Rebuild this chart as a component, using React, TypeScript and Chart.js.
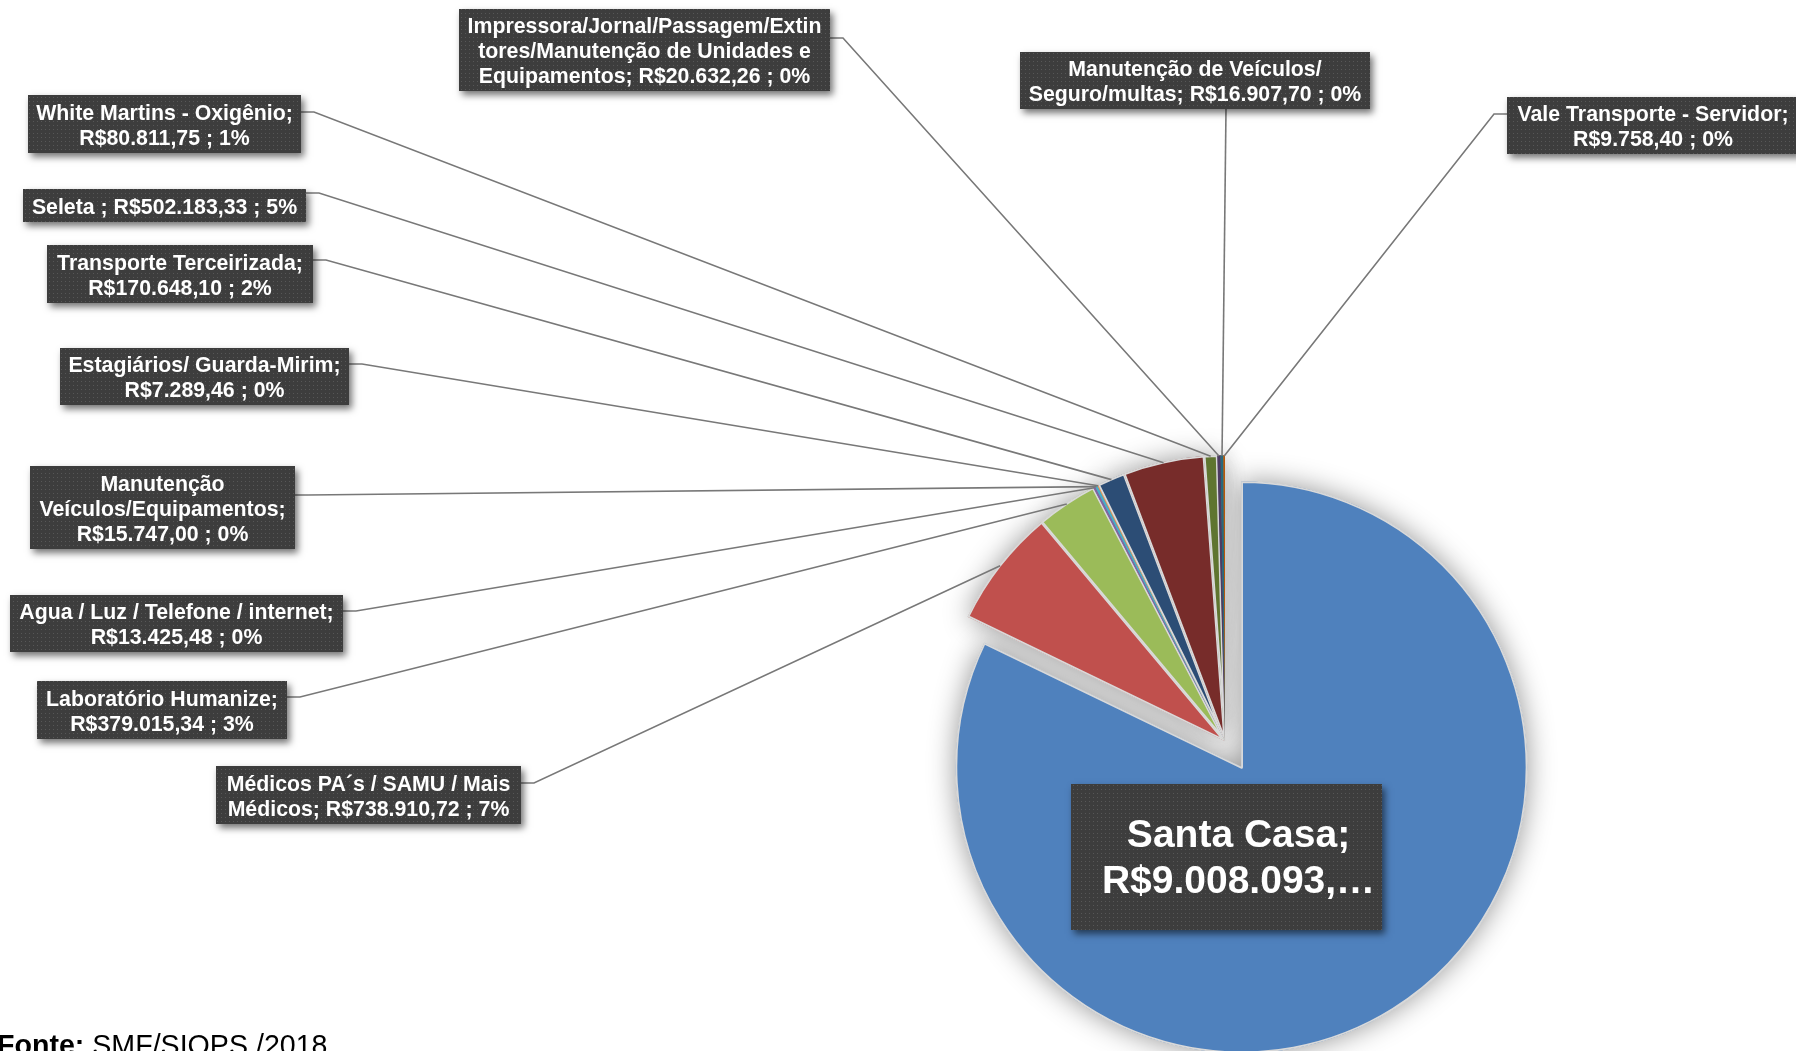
import React, { useEffect, useRef } from "react";
import { Chart, registerables } from "chart.js";

Chart.register(...registerables);

// ---------------- data ----------------
const categories: string[] = [
  "Santa Casa",
  "Médicos PA´s / SAMU / Mais Médicos",
  "Laboratório Humanize",
  "Agua / Luz / Telefone / internet",
  "Manutenção Veículos/Equipamentos",
  "Estagiários/ Guarda-Mirim",
  "Transporte Terceirizada",
  "Seleta ",
  "White Martins - Oxigênio",
  "Impressora/Jornal/Passagem/Extintores/Manutenção de Unidades e Equipamentos",
  "Manutenção de Veículos/ Seguro/multas",
  "Vale Transporte - Servidor",
];

const values: number[] = [
  9008093.0, 738910.72, 379015.34, 13425.48, 15747.0, 7289.46, 170648.1,
  502183.33, 80811.75, 20632.26, 16907.7, 9758.4,
];

const sliceColors: string[] = [
  "#4F81BD", "#C0504D", "#9BBB59", "#8064A2", "#4BACC6", "#F79646",
  "#2C4D75", "#772C2A", "#5F7530", "#4D3B62", "#276A7C", "#B65708",
];

const sourceLabel = "Fonte:";
const sourceValue = " SMF/SIOPS /2018";

// ---------------- styles / layout ----------------
const PIE_RADIUS = 286;
const explode: number[] = [31, 0, 0, 0, 0, 0, 0, 0, 0, 0, 0, 0];
const sliceBorder: number[] = [1.5, 1.5, 1.5, 0, 0, 0, 1.5, 1.5, 1.5, 0, 0, 0];
const FONT = '"Liberation Sans", Arial, Helvetica, sans-serif';

type Box = {
  x: number; y: number; w: number; h: number; wrap: number;
  side?: "right" | "left" | "bottom"; ay?: number; ax?: number;
  font?: number; lh?: number; maxLines?: number; tx?: number;
};

const labelBoxes: Box[] = [
  { x: 1071, y: 784, w: 311, h: 146, wrap: 286, font: 39, lh: 46, maxLines: 2, tx: 12 },
  { x: 216, y: 766, w: 305, h: 58, wrap: 296, side: "right", ay: 17 },
  { x: 37, y: 681, w: 250, h: 58, wrap: 241, side: "right", ay: 16 },
  { x: 10, y: 595, w: 333, h: 57, wrap: 324, side: "right", ay: 16 },
  { x: 30, y: 466, w: 265, h: 83, wrap: 256, side: "right", ay: 29 },
  { x: 60, y: 348, w: 289, h: 57, wrap: 280, side: "right", ay: 16 },
  { x: 47, y: 245, w: 266, h: 58, wrap: 257, side: "right", ay: 15 },
  { x: 23, y: 189, w: 283, h: 33, wrap: 276, side: "right", ay: 4 },
  { x: 28, y: 95, w: 273, h: 58, wrap: 264, side: "right", ay: 17 },
  { x: 459, y: 9, w: 371, h: 82, wrap: 357, side: "right", ay: 29 },
  { x: 1020, y: 52, w: 350, h: 57, wrap: 340, side: "bottom", ax: 206 },
  { x: 1507, y: 97, w: 292, h: 57, wrap: 282, side: "left", ay: 17 },
];

// ---------------- helpers ----------------
const total = values.reduce((a, b) => a + b, 0);

function brl(v: number): string {
  const [i, d] = v.toFixed(2).split(".");
  return "R$" + i.replace(/\B(?=(\d{3})+(?!\d))/g, ".") + "," + d;
}

function labelText(i: number): string {
  const pct = Math.round((values[i] / total) * 100);
  return `${categories[i]}; ${brl(values[i])} ; ${pct}%`;
}

function wrapText(ctx: CanvasRenderingContext2D, text: string, maxW: number): string[] {
  const words = text.split(" ").filter((w) => w.length > 0);
  const lines: string[] = [];
  let cur = "";
  for (const w of words) {
    const cand = cur ? cur + " " + w : w;
    if (ctx.measureText(cand).width <= maxW) {
      cur = cand;
      continue;
    }
    if (cur) {
      lines.push(cur);
      cur = "";
    }
    let rest = w;
    while (ctx.measureText(rest).width > maxW) {
      let k = rest.length;
      while (k > 1 && ctx.measureText(rest.slice(0, k)).width > maxW) k--;
      lines.push(rest.slice(0, k));
      rest = rest.slice(k);
    }
    cur = rest;
  }
  if (cur) lines.push(cur);
  return lines;
}

function makePattern(ctx: CanvasRenderingContext2D) {
  const c = document.createElement("canvas");
  c.width = 4;
  c.height = 4;
  const g = c.getContext("2d")!;
  g.fillStyle = "#3d3d3d";
  g.fillRect(0, 0, 4, 4);
  g.fillStyle = "#575757";
  g.fillRect(1, 1, 1, 1);
  return ctx.createPattern(c, "repeat");
}

// ---------------- plugins ----------------
const explodePlugin = {
  id: "explodeSlices",
  afterDatasetUpdate(chart: any, args: any) {
    const meta = chart.getDatasetMeta(args.index);
    meta.data.forEach((arc: any, i: number) => {
      const e = explode[i] || 0;
      if (!e) return;
      const mid = (arc.startAngle + arc.endAngle) / 2;
      arc.x = arc.x + Math.cos(mid) * e;
      arc.y = arc.y + Math.sin(mid) * e;
    });
  },
  beforeDatasetsDraw(chart: any) {
    const ctx: CanvasRenderingContext2D = chart.ctx;
    const meta = chart.getDatasetMeta(0);
    ctx.save();
    ctx.shadowColor = "rgba(0,0,0,0.42)";
    ctx.shadowBlur = 28;
    meta.data.forEach((arc: any) => arc.draw(ctx));
    ctx.restore();
  },
};

const labelPlugin = {
  id: "excelLabels",
  afterDatasetsDraw(chart: any) {
    const ctx: CanvasRenderingContext2D = chart.ctx;
    const meta = chart.getDatasetMeta(0);
    const pat = makePattern(ctx);

    // leader lines
    ctx.save();
    ctx.strokeStyle = "#787878";
    ctx.lineWidth = 1.6;
    labelBoxes.forEach((b, i) => {
      if (!b.side) return;
      const arc: any = meta.data[i];
      const mid = (arc.startAngle + arc.endAngle) / 2;
      const ex = arc.x + Math.cos(mid) * (arc.outerRadius - 1);
      const ey = arc.y + Math.sin(mid) * (arc.outerRadius - 1);
      ctx.beginPath();
      if (b.side === "right") {
        const ax = b.x + b.w, ay = b.y + (b.ay || 0);
        ctx.moveTo(ax, ay);
        ctx.lineTo(ax + 13, ay);
      } else if (b.side === "left") {
        const ax = b.x, ay = b.y + (b.ay || 0);
        ctx.moveTo(ax, ay);
        ctx.lineTo(ax - 13, ay);
      } else {
        ctx.moveTo(b.x + (b.ax || 0), b.y + b.h);
      }
      ctx.lineTo(ex, ey);
      ctx.stroke();
    });
    ctx.restore();

    // boxes + text
    labelBoxes.forEach((b, i) => {
      ctx.save();
      ctx.shadowColor = "rgba(0,0,0,0.55)";
      ctx.shadowBlur = 7;
      ctx.shadowOffsetX = 3;
      ctx.shadowOffsetY = 4;
      ctx.fillStyle = "#3d3d3d";
      ctx.fillRect(b.x, b.y, b.w, b.h);
      ctx.restore();
      if (pat) {
        ctx.save();
        ctx.fillStyle = pat;
        ctx.fillRect(b.x, b.y, b.w, b.h);
        ctx.restore();
      }

      const size = b.font || 21.3;
      const lh = b.lh || 25;
      ctx.save();
      ctx.font = `bold ${size}px ${FONT}`;
      let lines = wrapText(ctx, labelText(i), b.wrap);
      if (b.maxLines && lines.length > b.maxLines) {
        lines = lines.slice(0, b.maxLines);
        let last = lines[lines.length - 1];
        while (last.length > 0 && ctx.measureText(last + "…").width > b.wrap) {
          last = last.slice(0, -1);
        }
        lines[lines.length - 1] = last.trimEnd() + "…";
      }
      ctx.fillStyle = "#ffffff";
      ctx.textAlign = "center";
      ctx.textBaseline = "middle";
      const cx = b.x + b.w / 2 + (b.tx || 0);
      const cy = b.y + b.h / 2 + 2.5;
      lines.forEach((ln, k) => {
        ctx.fillText(ln, cx, cy + (k - (lines.length - 1) / 2) * lh);
      });
      ctx.restore();
    });

    // source note
    ctx.save();
    ctx.fillStyle = "#000";
    ctx.textBaseline = "alphabetic";
    ctx.textAlign = "left";
    ctx.font = `bold 28.6px ${FONT}`;
    ctx.fillText(sourceLabel, -3, 1055);
    const w = ctx.measureText(sourceLabel).width;
    ctx.font = `28.6px ${FONT}`;
    ctx.fillText(sourceValue, -3 + w, 1055);
    ctx.restore();
  },
};

// ---------------- component ----------------
export default function App() {
  const ref = useRef<HTMLCanvasElement>(null);

  useEffect(() => {
    if (!ref.current) return;
    const chart = new Chart(ref.current, {
      type: "pie",
      data: {
        labels: categories,
        datasets: [
          {
            data: values,
            backgroundColor: sliceColors,
            borderColor: "#d9d9d9",
            borderWidth: sliceBorder,
            borderAlign: "inner",
            radius: PIE_RADIUS,
          } as any,
        ],
      },
      options: {
        responsive: false,
        animation: false,
        events: [],
        layout: { padding: { left: 925, right: 271, top: 441, bottom: 10 } },
        plugins: {
          legend: { display: false },
          tooltip: { enabled: false },
          title: { display: false },
        },
      },
      plugins: [explodePlugin, labelPlugin],
    });
    return () => chart.destroy();
  }, []);

  return (
    <div style={{ position: "absolute", left: 0, top: 0, width: 1796, height: 1051, background: "#fff", overflow: "hidden" }}>
      <canvas ref={ref} width={1796} height={1051} style={{ display: "block" }} />
    </div>
  );
}
